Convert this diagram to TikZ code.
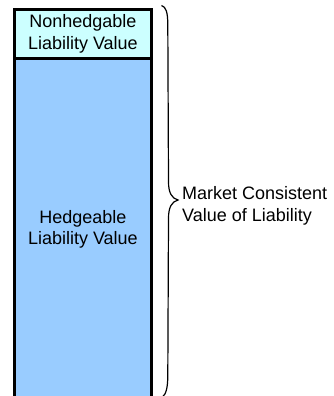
\documentclass[tikz,border=0pt]{standalone}
\usepackage{fontspec}
\setmainfont{Liberation Sans}
\definecolor{paleCyan}{RGB}{204,255,255}
\definecolor{skyBlue}{RGB}{153,204,255}
\begin{document}
\begin{tikzpicture}[x=1pt,y=-1pt,
  block/.style={draw=black, line width=2.6pt, minimum width=136.8pt,
    inner sep=0pt, align=center, font=\fontsize{18}{21.5}\selectfont},
  label/.style={align=left, anchor=west, inner sep=0pt,
    font=\fontsize{18}{21.5}\selectfont},
  bracepath/.style={draw=black, line width=1.2pt}]
\useasboundingbox (0,0) rectangle (334,396);
% the two stacked value blocks
\node[block, fill=skyBlue, minimum height=341.5pt] (hedge) at (82.9,229.25)
  {Hedgeable\\Liability Value};
\node[block, fill=paleCyan, minimum height=49.2pt] (nonhedge) at (82.9,33.9)
  {Nonhedgable\\Liability Value};
% curly brace spanning both blocks
\coordinate (btop) at (161.5,5.5);
\coordinate (btip) at (178,200);
\coordinate (bbot) at (162.5,397);
\path[bracepath] (btop) .. controls (166,7) and (167.8,12) .. (167.8,25)
  -- (168.5,182) .. controls (168.5,193) and (172,198.5) .. (btip)
  .. controls (172,201.5) and (168.5,207) .. (168.5,218)
  -- (167.8,375) .. controls (167.8,388) and (166,394) .. (bbot);
\node[label] (mcv) at (182,206) {Market Consistent\\Value of Liability};
\end{tikzpicture}
\end{document}
